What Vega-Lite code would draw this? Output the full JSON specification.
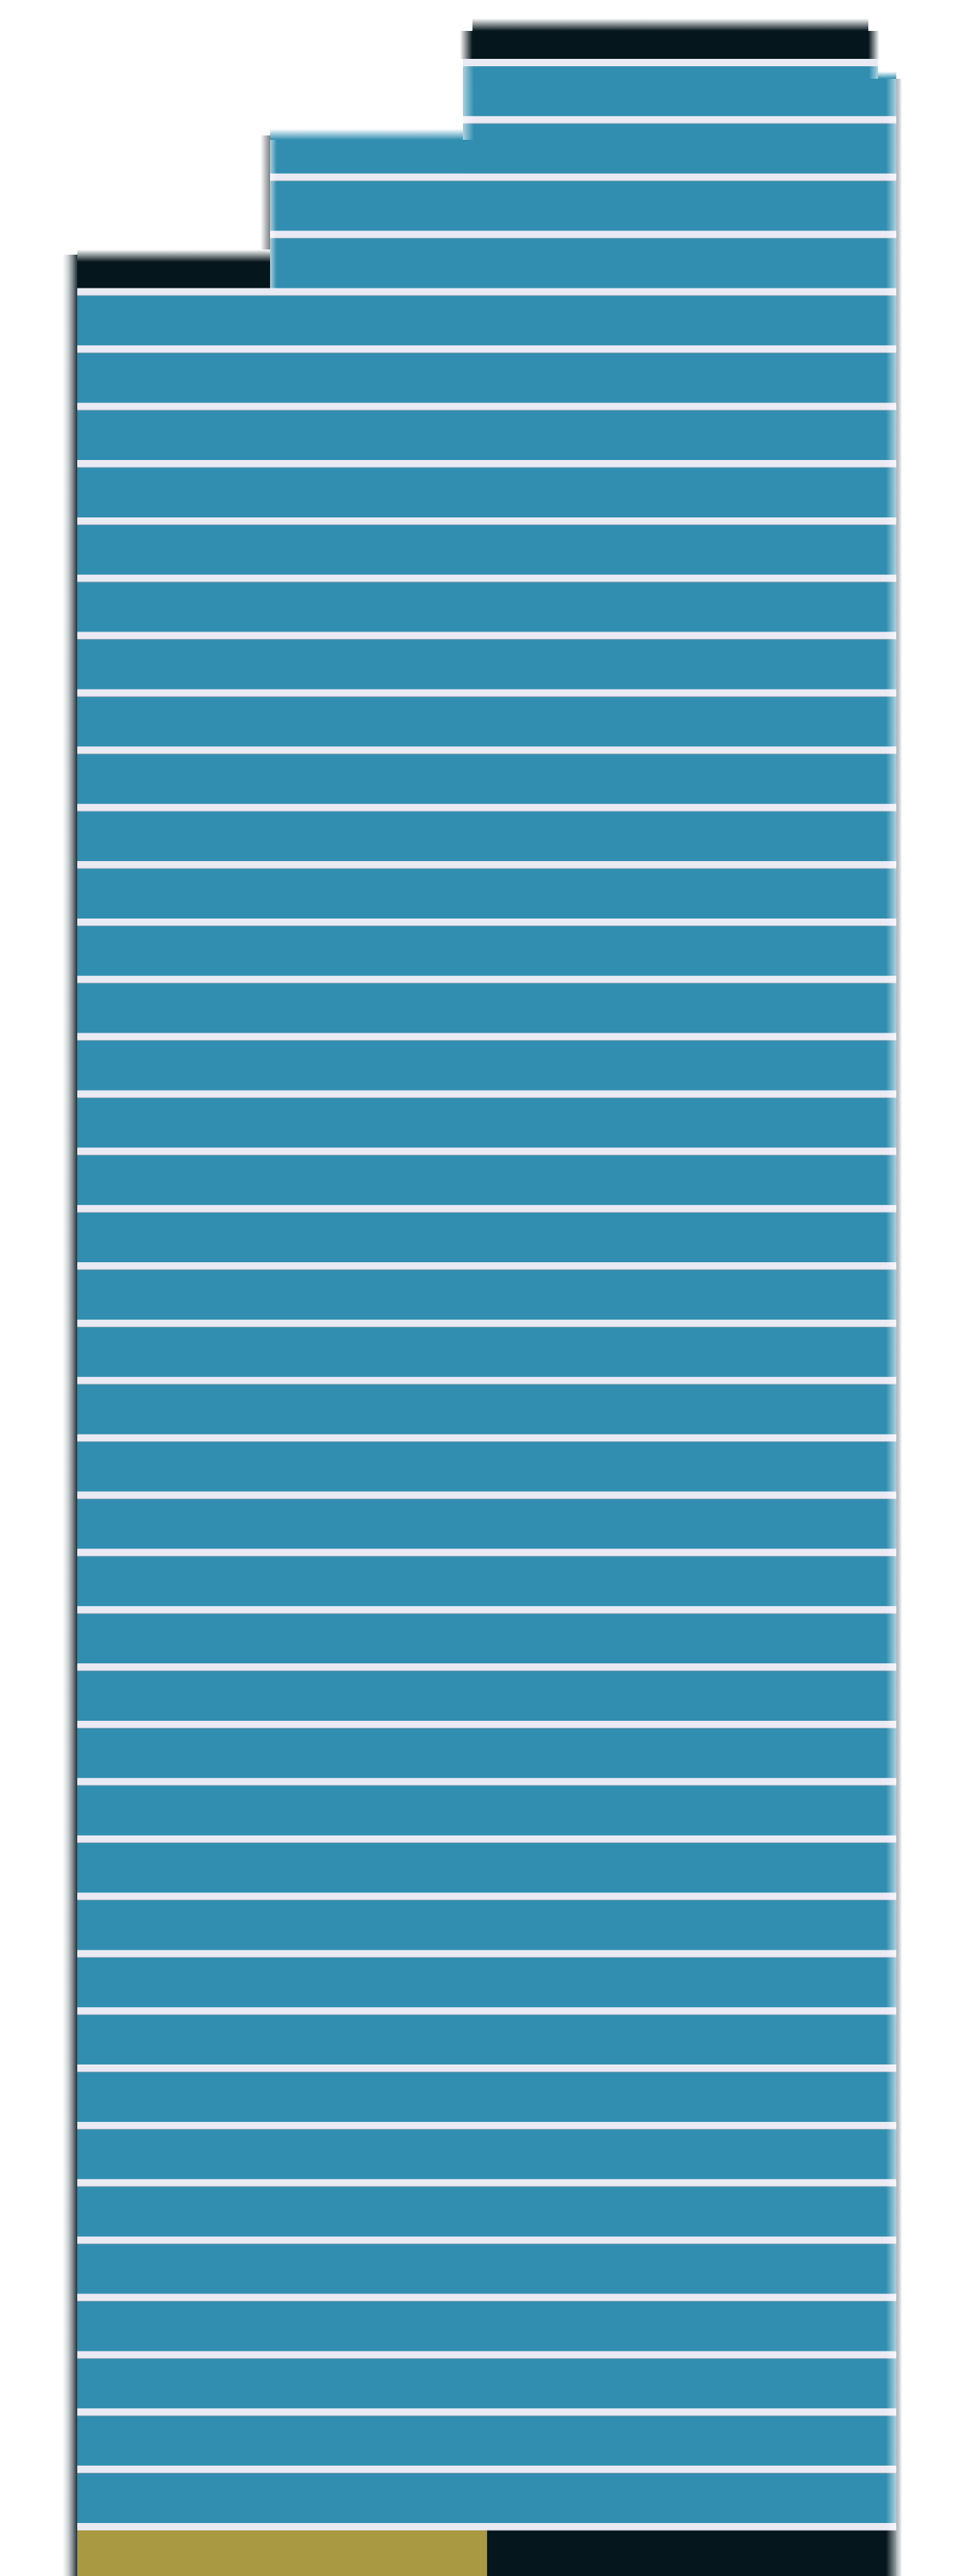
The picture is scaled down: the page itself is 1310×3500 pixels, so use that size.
{
  "$schema": "https://vega.github.io/schema/vega-lite/v6.json",
  "width": 1310,
  "height": 3500,
  "padding": 0,
  "autosize": {"type": "none"},
  "background": "#ffffff",
  "config": {"view": {"stroke": null}},
  "datasets": {
    "sil": [
      {"x": 629, "x2": 1193, "y": 80, "y2": 3438},
      {"x": 1193, "x2": 1218, "y": 107, "y2": 3438},
      {"x": 367, "x2": 629, "y": 236, "y2": 3438},
      {"x": 105, "x2": 367, "y": 392, "y2": 3438}
    ],
    "floors": [
      {"floor": 0, "kind": "dark", "x": 642, "x2": 1180, "y": 42, "y2": 80},
      {"floor": 1, "kind": "blue", "x": 629, "x2": 1193, "y": 90, "y2": 107},
      {"floor": 1, "kind": "blue", "x": 629, "x2": 1218, "y": 107, "y2": 157.86},
      {"floor": 2, "kind": "blue", "x": 629, "x2": 1218, "y": 167.86, "y2": 235.72},
      {"floor": 2, "kind": "blue", "x": 367, "x2": 629, "y": 190, "y2": 235.72},
      {"floor": 3, "kind": "blue", "x": 367, "x2": 1218, "y": 245.72, "y2": 313.58},
      {"floor": 4, "kind": "blue", "x": 367, "x2": 1218, "y": 323.58, "y2": 391.44},
      {"floor": 4, "kind": "dark", "x": 105, "x2": 367, "y": 356, "y2": 391.44},
      {"floor": 5, "kind": "blue", "x": 105, "x2": 1218, "y": 401.44, "y2": 469.3},
      {"floor": 6, "kind": "blue", "x": 105, "x2": 1218, "y": 479.3, "y2": 547.16},
      {"floor": 7, "kind": "blue", "x": 105, "x2": 1218, "y": 557.16, "y2": 625.02},
      {"floor": 8, "kind": "blue", "x": 105, "x2": 1218, "y": 635.02, "y2": 702.88},
      {"floor": 9, "kind": "blue", "x": 105, "x2": 1218, "y": 712.88, "y2": 780.74},
      {"floor": 10, "kind": "blue", "x": 105, "x2": 1218, "y": 790.74, "y2": 858.6},
      {"floor": 11, "kind": "blue", "x": 105, "x2": 1218, "y": 868.6, "y2": 936.46},
      {"floor": 12, "kind": "blue", "x": 105, "x2": 1218, "y": 946.46, "y2": 1014.32},
      {"floor": 13, "kind": "blue", "x": 105, "x2": 1218, "y": 1024.32, "y2": 1092.18},
      {"floor": 14, "kind": "blue", "x": 105, "x2": 1218, "y": 1102.18, "y2": 1170.04},
      {"floor": 15, "kind": "blue", "x": 105, "x2": 1218, "y": 1180.04, "y2": 1247.9},
      {"floor": 16, "kind": "blue", "x": 105, "x2": 1218, "y": 1257.9, "y2": 1325.76},
      {"floor": 17, "kind": "blue", "x": 105, "x2": 1218, "y": 1335.76, "y2": 1403.62},
      {"floor": 18, "kind": "blue", "x": 105, "x2": 1218, "y": 1413.62, "y2": 1481.48},
      {"floor": 19, "kind": "blue", "x": 105, "x2": 1218, "y": 1491.48, "y2": 1559.34},
      {"floor": 20, "kind": "blue", "x": 105, "x2": 1218, "y": 1569.34, "y2": 1637.2},
      {"floor": 21, "kind": "blue", "x": 105, "x2": 1218, "y": 1647.2, "y2": 1715.06},
      {"floor": 22, "kind": "blue", "x": 105, "x2": 1218, "y": 1725.06, "y2": 1792.92},
      {"floor": 23, "kind": "blue", "x": 105, "x2": 1218, "y": 1802.92, "y2": 1870.78},
      {"floor": 24, "kind": "blue", "x": 105, "x2": 1218, "y": 1880.78, "y2": 1948.64},
      {"floor": 25, "kind": "blue", "x": 105, "x2": 1218, "y": 1958.64, "y2": 2026.5},
      {"floor": 26, "kind": "blue", "x": 105, "x2": 1218, "y": 2036.5, "y2": 2104.36},
      {"floor": 27, "kind": "blue", "x": 105, "x2": 1218, "y": 2114.36, "y2": 2182.22},
      {"floor": 28, "kind": "blue", "x": 105, "x2": 1218, "y": 2192.22, "y2": 2260.08},
      {"floor": 29, "kind": "blue", "x": 105, "x2": 1218, "y": 2270.08, "y2": 2337.94},
      {"floor": 30, "kind": "blue", "x": 105, "x2": 1218, "y": 2347.94, "y2": 2415.8},
      {"floor": 31, "kind": "blue", "x": 105, "x2": 1218, "y": 2425.8, "y2": 2493.66},
      {"floor": 32, "kind": "blue", "x": 105, "x2": 1218, "y": 2503.66, "y2": 2571.52},
      {"floor": 33, "kind": "blue", "x": 105, "x2": 1218, "y": 2581.52, "y2": 2649.38},
      {"floor": 34, "kind": "blue", "x": 105, "x2": 1218, "y": 2659.38, "y2": 2727.24},
      {"floor": 35, "kind": "blue", "x": 105, "x2": 1218, "y": 2737.24, "y2": 2805.1},
      {"floor": 36, "kind": "blue", "x": 105, "x2": 1218, "y": 2815.1, "y2": 2882.96},
      {"floor": 37, "kind": "blue", "x": 105, "x2": 1218, "y": 2892.96, "y2": 2960.82},
      {"floor": 38, "kind": "blue", "x": 105, "x2": 1218, "y": 2970.82, "y2": 3038.68},
      {"floor": 39, "kind": "blue", "x": 105, "x2": 1218, "y": 3048.68, "y2": 3116.54},
      {"floor": 40, "kind": "blue", "x": 105, "x2": 1218, "y": 3126.54, "y2": 3194.4},
      {"floor": 41, "kind": "blue", "x": 105, "x2": 1218, "y": 3204.4, "y2": 3272.26},
      {"floor": 42, "kind": "blue", "x": 105, "x2": 1218, "y": 3282.26, "y2": 3350.12},
      {"floor": 43, "kind": "blue", "x": 105, "x2": 1218, "y": 3360.12, "y2": 3427.98},
      {"floor": 44, "kind": "gold", "x": 105, "x2": 661, "y": 3437.98, "y2": 3500},
      {"floor": 44, "kind": "dark", "x": 661.5, "x2": 1218, "y": 3437.98, "y2": 3500}
    ],
    "fx": [
      {"id": "mainShadow", "x": 85, "x2": 105, "y": 346, "y2": 3500},
      {"id": "segShadow", "x": 354, "x2": 367, "y": 184, "y2": 352},
      {"id": "crownLeft", "x": 625, "x2": 642, "y": 42, "y2": 80},
      {"id": "crownTop", "x": 642, "x2": 1180, "y": 25, "y2": 42},
      {"id": "crownRight", "x": 1180, "x2": 1195, "y": 42, "y2": 80},
      {"id": "barTop", "x": 105, "x2": 367, "y": 339, "y2": 356},
      {"id": "rowTop", "x": 367, "x2": 629, "y": 175, "y2": 190},
      {"id": "notchTop", "x": 1193, "x2": 1218, "y": 97, "y2": 107},
      {"id": "innerLeft", "x": 629, "x2": 644, "y": 90, "y2": 190},
      {"id": "innerLeft", "x": 367, "x2": 376, "y": 190, "y2": 392},
      {"id": "rightFade", "x": 1204, "x2": 1218, "y": 107, "y2": 3500},
      {"id": "rightFade", "x": 1181, "x2": 1193, "y": 90, "y2": 107},
      {"id": "rightGray", "x": 1218, "x2": 1226, "y": 107, "y2": 3500}
    ]
  },
  "layer": [
    {
      "data": {"name": "sil"},
      "mark": {"type": "rect", "fill": "#EAEAF4", "stroke": null},
      "encoding": {
        "x": {"field": "x", "type": "quantitative", "scale": {"domain": [0, 1310], "nice": false, "zero": false}, "axis": null},
        "x2": {"field": "x2"},
        "y": {"field": "y", "type": "quantitative", "scale": {"domain": [0, 3500], "nice": false, "zero": false, "reverse": true}, "axis": null},
        "y2": {"field": "y2"}
      }
    },
    {
      "data": {"name": "floors"},
      "mark": {"type": "rect", "stroke": null},
      "encoding": {
        "x": {"field": "x", "type": "quantitative", "axis": null},
        "x2": {"field": "x2"},
        "y": {"field": "y", "type": "quantitative", "axis": null},
        "y2": {"field": "y2"},
        "fill": {"field": "kind", "type": "nominal", "scale": {"domain": ["blue", "dark", "gold"], "range": ["#318EB0", "#05161C", "#A99942"]}, "legend": null}
      }
    },
    {
      "data": {"name": "floors"},
      "transform": [{"filter": "datum.floor >= 2 && datum.floor <= 44 && datum.x2 > 700"}],
      "mark": {"type": "rule", "color": "#9EA3AE", "strokeWidth": 1, "opacity": 0.7},
      "encoding": {
        "x": {"field": "x", "type": "quantitative", "axis": null},
        "x2": {"field": "x2"},
        "y": {"field": "y", "type": "quantitative", "axis": null},
        "y2": {"field": "y"}
      }
    },
    {
      "data": {"name": "fx"},
      "transform": [{"filter": "datum.id === 'mainShadow'"}],
      "mark": {"type": "rect", "stroke": null, "fill": {"gradient": "linear", "x1": 0, "x2": 1, "y1": 0, "y2": 0, "stops": [{"offset": 0, "color": "#ffffff"}, {"offset": 0.35, "color": "#d3d7d9"}, {"offset": 0.65, "color": "#8d979c"}, {"offset": 0.9, "color": "#3e4d54"}, {"offset": 1, "color": "#22343B"}]}},
      "encoding": {"x": {"field": "x", "type": "quantitative", "axis": null}, "x2": {"field": "x2"}, "y": {"field": "y", "type": "quantitative", "axis": null}, "y2": {"field": "y2"}}
    },
    {
      "data": {"name": "fx"},
      "transform": [{"filter": "datum.id === 'segShadow'"}],
      "mark": {"type": "rect", "stroke": null, "fill": {"gradient": "linear", "x1": 0, "x2": 1, "y1": 0, "y2": 0, "stops": [{"offset": 0, "color": "#ffffff"}, {"offset": 1, "color": "#7c8286"}]}},
      "encoding": {"x": {"field": "x", "type": "quantitative", "axis": null}, "x2": {"field": "x2"}, "y": {"field": "y", "type": "quantitative", "axis": null}, "y2": {"field": "y2"}}
    },
    {
      "data": {"name": "fx"},
      "transform": [{"filter": "datum.id === 'crownLeft'"}],
      "mark": {"type": "rect", "stroke": null, "fill": {"gradient": "linear", "x1": 0, "x2": 1, "y1": 0, "y2": 0, "stops": [{"offset": 0, "color": "#ffffff"}, {"offset": 1, "color": "#05161C"}]}},
      "encoding": {"x": {"field": "x", "type": "quantitative", "axis": null}, "x2": {"field": "x2"}, "y": {"field": "y", "type": "quantitative", "axis": null}, "y2": {"field": "y2"}}
    },
    {
      "data": {"name": "fx"},
      "transform": [{"filter": "datum.id === 'crownRight'"}],
      "mark": {"type": "rect", "stroke": null, "fill": {"gradient": "linear", "x1": 0, "x2": 1, "y1": 0, "y2": 0, "stops": [{"offset": 0, "color": "#05161C"}, {"offset": 1, "color": "#ffffff"}]}},
      "encoding": {"x": {"field": "x", "type": "quantitative", "axis": null}, "x2": {"field": "x2"}, "y": {"field": "y", "type": "quantitative", "axis": null}, "y2": {"field": "y2"}}
    },
    {
      "data": {"name": "fx"},
      "transform": [{"filter": "datum.id === 'crownTop' || datum.id === 'barTop'"}],
      "mark": {"type": "rect", "stroke": null, "fill": {"gradient": "linear", "x1": 0, "x2": 0, "y1": 0, "y2": 1, "stops": [{"offset": 0, "color": "#ffffff"}, {"offset": 1, "color": "#05161C"}]}},
      "encoding": {"x": {"field": "x", "type": "quantitative", "axis": null}, "x2": {"field": "x2"}, "y": {"field": "y", "type": "quantitative", "axis": null}, "y2": {"field": "y2"}}
    },
    {
      "data": {"name": "fx"},
      "transform": [{"filter": "datum.id === 'rowTop' || datum.id === 'notchTop'"}],
      "mark": {"type": "rect", "stroke": null, "fill": {"gradient": "linear", "x1": 0, "x2": 0, "y1": 0, "y2": 1, "stops": [{"offset": 0, "color": "#ffffff"}, {"offset": 1, "color": "#318EB0"}]}},
      "encoding": {"x": {"field": "x", "type": "quantitative", "axis": null}, "x2": {"field": "x2"}, "y": {"field": "y", "type": "quantitative", "axis": null}, "y2": {"field": "y2"}}
    },
    {
      "data": {"name": "fx"},
      "transform": [{"filter": "datum.id === 'innerLeft'"}],
      "mark": {"type": "rect", "stroke": null, "fill": {"gradient": "linear", "x1": 0, "x2": 1, "y1": 0, "y2": 0, "stops": [{"offset": 0, "color": "rgba(255,255,255,0.6)"}, {"offset": 1, "color": "rgba(255,255,255,0)"}]}},
      "encoding": {"x": {"field": "x", "type": "quantitative", "axis": null}, "x2": {"field": "x2"}, "y": {"field": "y", "type": "quantitative", "axis": null}, "y2": {"field": "y2"}}
    },
    {
      "data": {"name": "fx"},
      "transform": [{"filter": "datum.id === 'rightFade'"}],
      "mark": {"type": "rect", "stroke": null, "fill": {"gradient": "linear", "x1": 0, "x2": 1, "y1": 0, "y2": 0, "stops": [{"offset": 0, "color": "rgba(255,255,255,0)"}, {"offset": 1, "color": "rgba(255,255,255,0.6)"}]}},
      "encoding": {"x": {"field": "x", "type": "quantitative", "axis": null}, "x2": {"field": "x2"}, "y": {"field": "y", "type": "quantitative", "axis": null}, "y2": {"field": "y2"}}
    },
    {
      "data": {"name": "fx"},
      "transform": [{"filter": "datum.id === 'rightGray'"}],
      "mark": {"type": "rect", "stroke": null, "fill": {"gradient": "linear", "x1": 0, "x2": 1, "y1": 0, "y2": 0, "stops": [{"offset": 0, "color": "#aeb2b7"}, {"offset": 0.45, "color": "#c9ccd0"}, {"offset": 1, "color": "#ffffff"}]}},
      "encoding": {"x": {"field": "x", "type": "quantitative", "axis": null}, "x2": {"field": "x2"}, "y": {"field": "y", "type": "quantitative", "axis": null}, "y2": {"field": "y2"}}
    }
  ]
}
